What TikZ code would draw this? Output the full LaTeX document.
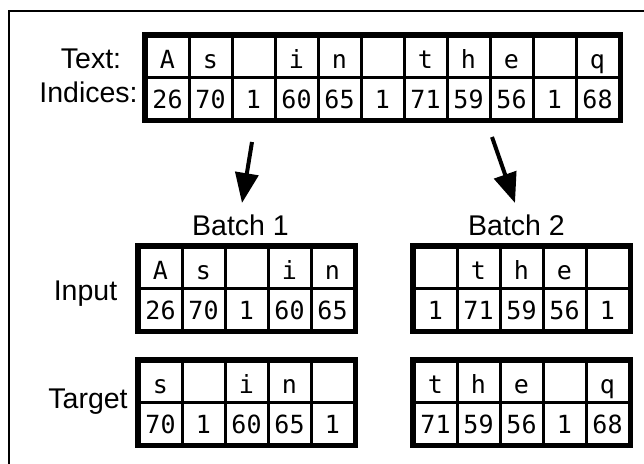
\documentclass[tikz,border=0pt]{standalone}
\usepackage{fontspec}
\setmainfont{Liberation Sans}
\newfontfamily\monof{DejaVu Sans Mono}
\usetikzlibrary{arrows.meta}
\tikzset{
  cellbox/.style={draw, line width=3pt, minimum width=43pt, minimum height=41.5pt,
    inner sep=0pt, font=\monof\fontsize{25}{25}\selectfont, text depth=0pt},
  lettercell/.style={cellbox, text height=24pt},
  digitcell/.style={cellbox, text height=20.5pt},
  outerline/.style={draw, line width=4.5pt},
  lbl/.style={font=\fontsize{28.5}{28.5}\selectfont, anchor=base, inner sep=0pt},
  bigarrow/.style={line width=4pt, -{Triangle[width=23pt,length=30pt]}},
  frameline/.style={line width=2.5pt}
}
\newcommand{\celltable}[6]{%
  \foreach \c [count=\i] in {#4} {
    \node[lettercell] (#1-t\i) at ({#2+21.5+43*(\i-1)}, {#3+20.75}) {\c};
  }
  \foreach \c [count=\i] in {#5} {
    \node[digitcell] (#1-n\i) at ({#2+21.5+43*(\i-1)}, {#3+62.25}) {\c};
  }
  \draw[outerline] (#1-t1.north west) rectangle (#1-n#6.south east);
}
\begin{document}
\begin{tikzpicture}[x=1pt,y=-1pt]
\useasboundingbox (0,0) rectangle (644,463);
\draw[frameline] (9,470) -- (9,11) -- (650,11);

% main table
\node[lbl] (ltext) at (91,68) {Text:};
\node[lbl] (lind) at (88.5,102) {Indices:};
\celltable{m}{146}{36}{A,s,{},i,n,{},t,h,e,{},q}{26,70,1,60,65,1,71,59,56,1,68}{11}

% batch labels
\node[lbl] (b1) at (240.5,235) {Batch 1};
\node[lbl] (b2) at (516.5,235) {Batch 2};
\node[lbl] (linput) at (85.5,300) {Input};
\node[lbl] (ltarget) at (88,408) {Target};

% batch tables
\celltable{bi}{139}{247}{A,s,{},i,n}{26,70,1,60,65}{5}
\celltable{bt}{139}{361}{s,{},i,n,{}}{70,1,60,65,1}{5}
\celltable{ci}{414}{247}{{},t,h,e,{}}{1,71,59,56,1}{5}
\celltable{ct}{414}{361}{t,h,e,{},q}{71,59,56,1,68}{5}

% arrows
\coordinate (a1s) at (252,142);
\coordinate (a1e) at (242,203);
\coordinate (a2s) at (492,137);
\coordinate (a2e) at (515,203);
\draw[bigarrow] (a1s) -- (a1e);
\draw[bigarrow] (a2s) -- (a2e);
\end{tikzpicture}
\end{document}
